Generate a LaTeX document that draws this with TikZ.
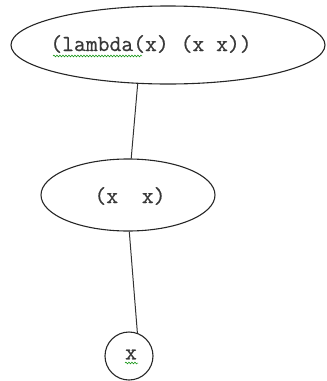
\documentclass[tikz,border=0pt]{standalone}
\usepackage{fontspec}
\newfontfamily\codefont{Latin Modern Mono}[FakeBold=0.6]
\usetikzlibrary{decorations.pathmorphing,shapes.geometric}
\begin{document}
\begin{tikzpicture}[x=1pt,y=-1pt,
  treenode/.style={draw=black!85,line width=1.1pt,inner sep=0pt},
  edge/.style={draw=black!80,line width=1pt},
  code/.style={font=\codefont\fontsize{23}{23}\selectfont,text=black!78,inner sep=0pt},
  squiggle/.style={draw=green!55!black,line width=0.5pt,
    decorate,decoration={snake,amplitude=0.9pt,segment length=3pt}}]
\useasboundingbox (0,0) rectangle (327,381);
% tree nodes
\node[treenode,ellipse,minimum width=314pt,minimum height=78pt] (root) at (168,45) {};
\node[treenode,ellipse,minimum width=174pt,minimum height=72pt] (app) at (128,195) {};
\node[treenode,circle,minimum size=48pt] (var) at (129,356) {};
% labels
\node[code] (rootlbl) at (151,44) {(lambda(x) (x x))};
\node[code] (applbl) at (130,196) {(x\ \ x)};
\node[code] (varlbl) at (131,354.5) {x};
% spell-check underlines
\coordinate (s1a) at (53,56);
\coordinate (s1b) at (142,56);
\coordinate (s2a) at (125,363);
\coordinate (s2b) at (138,363);
\draw[squiggle] (s1a) -- (s1b);
\draw[squiggle] (s2a) -- (s2b);
% edges
\draw[edge] (root.-128) -- (app.85);
\draw[edge] (app.-88) -- (var.70);
\end{tikzpicture}
\end{document}
